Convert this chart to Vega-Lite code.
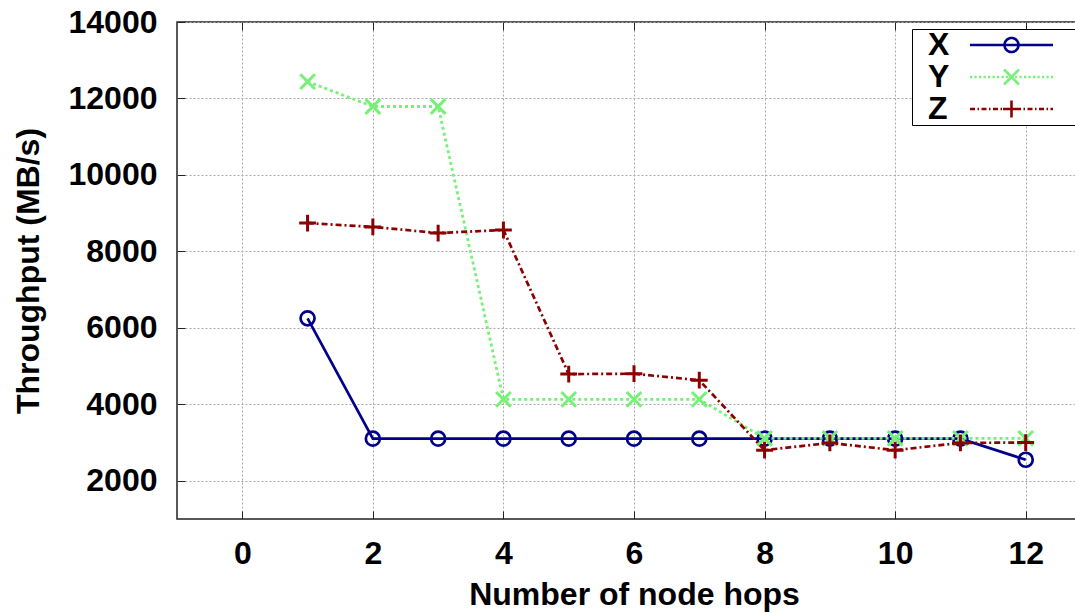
{
  "$schema": "https://vega.github.io/schema/vega-lite/v6.json",
  "width": 914,
  "height": 497,
  "autosize": {"type": "none"},
  "padding": {"left": 177, "top": 22, "right": 0, "bottom": 94},
  "background": "white",
  "config": {
    "view": {"stroke": "#222222", "strokeWidth": 1.5},
    "font": "Liberation Sans",
    "axisX": {
      "grid": true, "gridColor": "#a8a8a8", "gridDash": [2, 2], "gridWidth": 1,
      "domain": false, "tickSize": -8, "tickColor": "#222222", "tickWidth": 1,
      "labelPadding": 27, "labelFontSize": 32, "labelFont": "Liberation Sans",
      "labelFontWeight": "bold", "labelColor": "black",
      "titleFontSize": 32, "titleFont": "Liberation Sans", "titleFontWeight": "bold",
      "titleColor": "black", "titlePadding": 10
    },
    "axisY": {
      "grid": true, "gridColor": "#a8a8a8", "gridDash": [2, 2], "gridWidth": 1,
      "domain": false, "tickSize": -8, "tickColor": "#222222", "tickWidth": 1,
      "labelPadding": 28, "labelFontSize": 32, "labelFont": "Liberation Sans",
      "labelFontWeight": "bold", "labelColor": "black",
      "titleFontSize": 32, "titleFont": "Liberation Sans", "titleFontWeight": "bold",
      "titleColor": "black", "titlePadding": 23
    }
  },
  "data": {
    "values": [
      {"series": "X", "hops": 1, "throughput": 6250},
      {"series": "X", "hops": 2, "throughput": 3100},
      {"series": "X", "hops": 3, "throughput": 3100},
      {"series": "X", "hops": 4, "throughput": 3100},
      {"series": "X", "hops": 5, "throughput": 3100},
      {"series": "X", "hops": 6, "throughput": 3100},
      {"series": "X", "hops": 7, "throughput": 3100},
      {"series": "X", "hops": 8, "throughput": 3100},
      {"series": "X", "hops": 9, "throughput": 3100},
      {"series": "X", "hops": 10, "throughput": 3100},
      {"series": "X", "hops": 11, "throughput": 3100},
      {"series": "X", "hops": 12, "throughput": 2550},
      {"series": "Y", "hops": 1, "throughput": 12440},
      {"series": "Y", "hops": 2, "throughput": 11790},
      {"series": "Y", "hops": 3, "throughput": 11790},
      {"series": "Y", "hops": 4, "throughput": 4130},
      {"series": "Y", "hops": 5, "throughput": 4130},
      {"series": "Y", "hops": 6, "throughput": 4130},
      {"series": "Y", "hops": 7, "throughput": 4130},
      {"series": "Y", "hops": 8, "throughput": 3110},
      {"series": "Y", "hops": 9, "throughput": 3110},
      {"series": "Y", "hops": 10, "throughput": 3110},
      {"series": "Y", "hops": 11, "throughput": 3110},
      {"series": "Y", "hops": 12, "throughput": 3110},
      {"series": "Z", "hops": 1, "throughput": 8740},
      {"series": "Z", "hops": 2, "throughput": 8640},
      {"series": "Z", "hops": 3, "throughput": 8480},
      {"series": "Z", "hops": 4, "throughput": 8560},
      {"series": "Z", "hops": 5, "throughput": 4790},
      {"series": "Z", "hops": 6, "throughput": 4800},
      {"series": "Z", "hops": 7, "throughput": 4630},
      {"series": "Z", "hops": 8, "throughput": 2800},
      {"series": "Z", "hops": 9, "throughput": 2990},
      {"series": "Z", "hops": 10, "throughput": 2800},
      {"series": "Z", "hops": 11, "throughput": 2990},
      {"series": "Z", "hops": 12, "throughput": 3000}
    ]
  },
  "resolve": {"axis": {"x": "independent"}},
  "layer": [
    {
      "transform": [{"filter": "datum.series === 'X'"}],
      "mark": {"type": "line", "strokeWidth": 2.7, "clip": true},
      "encoding": {
        "x": {
          "field": "hops", "type": "quantitative",
          "scale": {"domain": [-1, 13], "nice": false, "zero": false},
          "axis": {"values": [0, 2, 4, 6, 8, 10, 12], "title": "Number of node hops"}
        },
        "y": {
          "field": "throughput", "type": "quantitative",
          "scale": {"domain": [1000, 14000], "nice": false, "zero": false},
          "axis": {"values": [2000, 4000, 6000, 8000, 10000, 12000, 14000], "format": "d", "title": "Throughput (MB/s)"}
        },
        "color": {"field": "series", "type": "nominal", "scale": {"domain": ["X", "Y", "Z"], "range": ["#00008b", "#77f077", "#8b0000"]}}
      }
    },
    {
      "transform": [{"filter": "datum.series === 'X'"}],
      "mark": {"type": "point", "shape": "circle", "filled": false, "size": 196, "strokeWidth": 2.7, "opacity": 1, "clip": true},
      "encoding": {
        "x": {
          "field": "hops", "type": "quantitative",
          "scale": {"domain": [-1, 13], "nice": false, "zero": false},
          "axis": {
            "orient": "top", "values": [0, 2, 4, 6, 8, 10, 12],
            "labels": false, "title": null, "grid": false
          }
        },
        "y": {
          "field": "throughput", "type": "quantitative",
          "scale": {"domain": [1000, 14000], "nice": false, "zero": false},
          "axis": {"values": [2000, 4000, 6000, 8000, 10000, 12000, 14000], "format": "d", "title": "Throughput (MB/s)"}
        },
        "color": {
          "field": "series", "type": "nominal",
          "scale": {"domain": ["X", "Y", "Z"], "range": ["#00008b", "#77f077", "#8b0000"]},
          "legend": {
            "title": null,
            "orient": "none",
            "legendX": 735,
            "legendY": 7,
            "padding": 0,
            "rowPadding": 0,
            "labelFontSize": 32,
            "labelFont": "Liberation Sans",
            "labelFontWeight": "bold",
            "labelColor": "black",
            "labelAlign": "left",
            "labelOffset": -99.5,
            "symbolOffset": 83.5,
            "symbolSize": 400,
            "symbolStrokeWidth": 2.6,
            "symbolDash": [1, 0],
            "symbolFillColor": "transparent",
            "strokeColor": "black",
            "fillColor": "white",
            "symbolType": {
              "expr": "datum.value === 'X' ? 'M-4.15,0H4.15M-0.7,0A0.7,0.7 0 1,1 0.7,0A0.7,0.7 0 1,1 -0.7,0M5.95,0' : datum.value === 'Y' ? 'M-4.15,0h0.22M-3.7,0h0.22M-3.25,0h0.22M-2.8,0h0.22M-2.35,0h0.22M-1.9,0h0.22M-1.45,0h0.22M-1,0h0.22M-0.55,0h0.22M-0.1,0h0.22M0.35,0h0.22M0.8,0h0.22M1.25,0h0.22M1.7,0h0.22M2.15,0h0.22M2.6,0h0.22M3.05,0h0.22M3.5,0h0.22M3.95,0h0.2M-0.75,-0.75L0.75,0.75M-0.75,0.75L0.75,-0.75M5.95,0' : 'M-4.15,0H-3.65M-3.4,0H-3.25M-3,0H-2.5M-2.25,0H-2.1M-1.85,0H-1.35M-1.1,0H-0.95M-0.7,0H-0.2M0.05,0H0.2M0.45,0H0.95M1.2,0H1.35M1.6,0H2.1M2.35,0H2.5M2.75,0H3.25M3.5,0H3.65M3.9,0H4.15M-0.85,0H0.85M0,-0.85V0.85M5.95,0'"
            }
          }
        }
      }
    },
    {
      "transform": [{"filter": "datum.series === 'Y'"}],
      "mark": {"type": "line", "strokeWidth": 2.8, "strokeDash": [3, 3], "clip": true},
      "encoding": {
        "x": {"field": "hops", "type": "quantitative", "scale": {"domain": [-1, 13], "nice": false, "zero": false}, "axis": null},
        "y": {
          "field": "throughput", "type": "quantitative",
          "scale": {"domain": [1000, 14000], "nice": false, "zero": false},
          "axis": {"values": [2000, 4000, 6000, 8000, 10000, 12000, 14000], "format": "d", "title": "Throughput (MB/s)"}
        },
        "color": {"field": "series", "type": "nominal", "scale": {"domain": ["X", "Y", "Z"], "range": ["#00008b", "#77f077", "#8b0000"]}}
      }
    },
    {
      "transform": [{"filter": "datum.series === 'Y'"}],
      "mark": {"type": "point", "shape": "M-1.05,-1.05L1.05,1.05M-1.05,1.05L1.05,-1.05", "filled": false, "size": 196, "strokeWidth": 3, "opacity": 1, "clip": true},
      "encoding": {
        "x": {"field": "hops", "type": "quantitative", "scale": {"domain": [-1, 13], "nice": false, "zero": false}, "axis": null},
        "y": {
          "field": "throughput", "type": "quantitative",
          "scale": {"domain": [1000, 14000], "nice": false, "zero": false},
          "axis": {"values": [2000, 4000, 6000, 8000, 10000, 12000, 14000], "format": "d", "title": "Throughput (MB/s)"}
        },
        "color": {"field": "series", "type": "nominal", "scale": {"domain": ["X", "Y", "Z"], "range": ["#00008b", "#77f077", "#8b0000"]}}
      }
    },
    {
      "transform": [{"filter": "datum.series === 'Z'"}],
      "mark": {"type": "line", "strokeWidth": 2.7, "strokeDash": [6, 3, 2, 3], "clip": true},
      "encoding": {
        "x": {"field": "hops", "type": "quantitative", "scale": {"domain": [-1, 13], "nice": false, "zero": false}, "axis": null},
        "y": {
          "field": "throughput", "type": "quantitative",
          "scale": {"domain": [1000, 14000], "nice": false, "zero": false},
          "axis": {"values": [2000, 4000, 6000, 8000, 10000, 12000, 14000], "format": "d", "title": "Throughput (MB/s)"}
        },
        "color": {"field": "series", "type": "nominal", "scale": {"domain": ["X", "Y", "Z"], "range": ["#00008b", "#77f077", "#8b0000"]}}
      }
    },
    {
      "transform": [{"filter": "datum.series === 'Z'"}],
      "mark": {"type": "point", "shape": "M-1.2,0H1.2M0,-1.2V1.2", "filled": false, "size": 196, "strokeWidth": 3, "opacity": 1, "clip": true},
      "encoding": {
        "x": {"field": "hops", "type": "quantitative", "scale": {"domain": [-1, 13], "nice": false, "zero": false}, "axis": null},
        "y": {
          "field": "throughput", "type": "quantitative",
          "scale": {"domain": [1000, 14000], "nice": false, "zero": false},
          "axis": {"values": [2000, 4000, 6000, 8000, 10000, 12000, 14000], "format": "d", "title": "Throughput (MB/s)"}
        },
        "color": {"field": "series", "type": "nominal", "scale": {"domain": ["X", "Y", "Z"], "range": ["#00008b", "#77f077", "#8b0000"]}}
      }
    }
  ]
}
